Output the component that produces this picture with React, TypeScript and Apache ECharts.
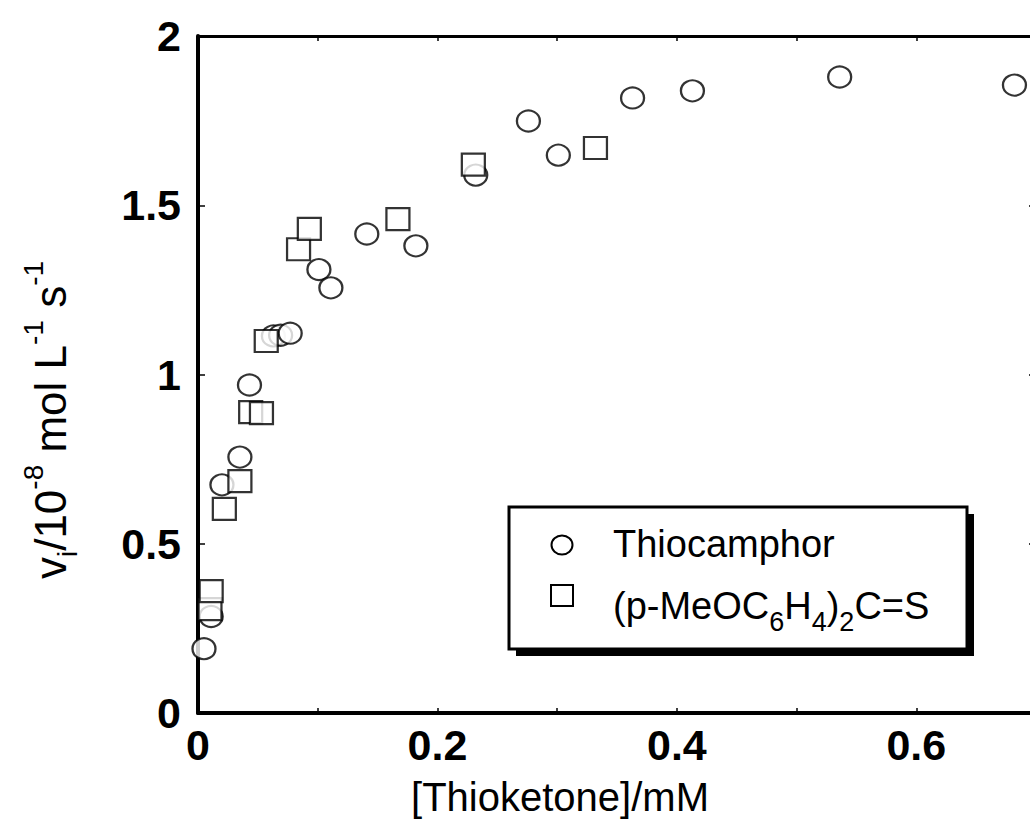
import React, { useEffect, useRef } from 'react';
import * as echarts from 'echarts';

const seriesNames = ['Thiocamphor', '(p-MeOC6H4)2C=S'];

// Thiocamphor (circles)
const thioX = [0.005, 0.011, 0.020, 0.035, 0.043, 0.063, 0.069, 0.077, 0.101, 0.111, 0.141, 0.182, 0.232, 0.276, 0.301, 0.363, 0.413, 0.536, 0.682];
const thioY = [0.19, 0.285, 0.674, 0.756, 0.969, 1.114, 1.116, 1.122, 1.31, 1.256, 1.415, 1.38, 1.589, 1.749, 1.648, 1.817, 1.838, 1.879, 1.855];

// (p-MeOC6H4)2C=S (squares)
const meoX = [0.010, 0.011, 0.022, 0.035, 0.044, 0.053, 0.057, 0.084, 0.093, 0.167, 0.230, 0.332];
const meoY = [0.307, 0.36, 0.603, 0.685, 0.889, 0.886, 1.099, 1.37, 1.43, 1.459, 1.62, 1.669];

const xTickLabels = ['0', '0.2', '0.4', '0.6'];
const yTickLabels = ['0', '0.5', '1', '1.5', '2'];
const xTitle = '[Thioketone]/mM';

const FONT = '"Liberation Sans", Arial, Helvetica, sans-serif';

export default function App() {
  const ref = useRef<HTMLDivElement>(null);

  useEffect(() => {
    const chart = echarts.init(ref.current as HTMLDivElement, null, { renderer: 'svg' });
    const pairs = (xs: number[], ys: number[]) => xs.map((x, i) => [x, ys[i]]);
    const fmtX = (v: number) => {
      const k = Math.round(v * 10);
      return k % 2 === 0 ? (xTickLabels[k / 2] ?? '') : '';
    };
    const fmtY = (v: number) => {
      const k = Math.round(v * 2);
      return yTickLabels[k] ?? '';
    };

    const tickStyle = { color: '#000', width: 1.5 };

    // legend second line with subscripts, built from the series name
    const legend2 = seriesNames[1].replace(/([A-Za-z)])(\d)/g, (_m, a, d) => `${a}§${d}§`);
    const legend2Rich = legend2
      .split('§')
      .map((part, i) => (part === '' ? '' : i % 2 === 1 ? `{sb|${part}}` : `{m|${part}}`))
      .join('');

    const option: echarts.EChartsOption = {
      animation: false,
      backgroundColor: '#fff',
      grid: { left: 198, top: 36, right: 0, bottom: 116, containLabel: false },
      xAxis: [
        {
          type: 'value',
          position: 'bottom',
          min: 0,
          max: 0.7,
          interval: 0.1,
          axisLine: { show: true, onZero: false, lineStyle: { color: '#000', width: 4 } },
          axisTick: { show: true, inside: true, length: 5, lineStyle: tickStyle },
          axisLabel: {
            formatter: fmtX,
            color: '#000',
            fontFamily: FONT,
            fontSize: 43,
            fontWeight: 'bold',
            margin: 10,
            showMaxLabel: false,
          },
          splitLine: { show: false },
        },
        {
          type: 'value',
          position: 'top',
          min: 0,
          max: 0.7,
          interval: 0.1,
          axisLine: { show: true, onZero: false, lineStyle: { color: '#000', width: 3 } },
          axisTick: { show: true, inside: true, length: 5, lineStyle: tickStyle },
          axisLabel: { show: false },
          splitLine: { show: false },
        },
      ],
      yAxis: [
        {
          type: 'value',
          position: 'left',
          min: 0,
          max: 2,
          interval: 0.5,
          axisLine: { show: true, onZero: false, lineStyle: { color: '#000', width: 4 } },
          axisTick: { show: true, inside: true, length: 7, lineStyle: tickStyle },
          axisLabel: {
            formatter: fmtY,
            color: '#000',
            fontFamily: FONT,
            fontSize: 43,
            fontWeight: 'bold',
            margin: 17,
          },
          splitLine: { show: false },
        },
        {
          type: 'value',
          position: 'right',
          min: 0,
          max: 2,
          interval: 0.5,
          axisLine: { show: true, onZero: false, lineStyle: { color: '#000', width: 3 } },
          axisTick: { show: true, inside: true, length: 7, lineStyle: tickStyle },
          axisLabel: { show: false },
          splitLine: { show: false },
        },
      ],
      series: [
        {
          name: seriesNames[0],
          type: 'scatter',
          data: pairs(thioX, thioY),
          symbol: 'circle',
          symbolSize: [23, 21],
          itemStyle: { color: '#fff', borderColor: '#000', borderWidth: 2.2 },
          z: 2,
        },
        {
          name: seriesNames[1],
          type: 'scatter',
          data: pairs(meoX, meoY),
          symbol: 'rect',
          symbolSize: [23, 22],
          itemStyle: { color: '#fff', borderColor: '#000', borderWidth: 2.2 },
          z: 3,
        },
      ],
      graphic: [
        // x-axis title
        {
          type: 'text',
          x: 560,
          y: 797,
          style: {
            text: xTitle,
            font: `40px ${FONT}`,
            fill: '#000',
            align: 'center',
            verticalAlign: 'middle',
          },
        },
        // y-axis title
        {
          type: 'text',
          x: 50,
          y: 420,
          rotation: Math.PI / 2,
          style: {
            text: '{m|v}{sb|i}{m|/10}{sp|-8}{m| mol L}{sp|-1}{m| s}{sp|-1}',
            align: 'center',
            verticalAlign: 'middle',
            fill: '#000',
            rich: {
              m: { fontFamily: FONT, fontSize: 44, lineHeight: 62, fill: '#000' },
              sp: { fontFamily: FONT, fontSize: 28, lineHeight: 26, verticalAlign: 'top', fill: '#000' },
              sb: { fontFamily: FONT, fontSize: 28, lineHeight: 26, verticalAlign: 'bottom', fill: '#000' },
            },
          },
          z: 10,
        },
        // legend box shadow
        {
          type: 'rect',
          shape: { x: 516, y: 514, width: 458, height: 142 },
          style: { fill: '#000' },
          z: 20,
        },
        // legend box
        {
          type: 'rect',
          shape: { x: 509, y: 507, width: 458, height: 142 },
          style: { fill: '#fff', stroke: '#000', lineWidth: 3 },
          z: 21,
        },
        {
          type: 'ellipse',
          shape: { cx: 562, cy: 545, rx: 10.5, ry: 9.5 },
          style: { fill: '#fff', stroke: '#000', lineWidth: 2 },
          z: 22,
        },
        {
          type: 'rect',
          shape: { x: 551, y: 585, width: 22, height: 21 },
          style: { fill: '#fff', stroke: '#000', lineWidth: 2 },
          z: 22,
        },
        {
          type: 'text',
          x: 613,
          y: 544,
          style: {
            text: seriesNames[0],
            font: `38px ${FONT}`,
            fill: '#000',
            align: 'left',
            verticalAlign: 'middle',
          },
          z: 22,
        },
        {
          type: 'text',
          x: 613,
          y: 587,
          style: {
            text: legend2Rich,
            align: 'left',
            verticalAlign: 'top',
            fill: '#000',
            rich: {
              m: { fontFamily: FONT, fontSize: 38, lineHeight: 38, verticalAlign: 'top', fill: '#000' },
              sb: { fontFamily: FONT, fontSize: 27, lineHeight: 70, fill: '#000' },
            },
          },
          z: 22,
        },
      ],
    };

    chart.setOption(option);
    return () => chart.dispose();
  }, []);

  return (
    <div style={{ position: 'absolute', left: 0, top: 0, width: 1030, height: 829, overflow: 'hidden', background: '#fff' }}>
      <div ref={ref} style={{ position: 'absolute', left: 0, top: 0, width: 1036, height: 829 }} />
    </div>
  );
}
